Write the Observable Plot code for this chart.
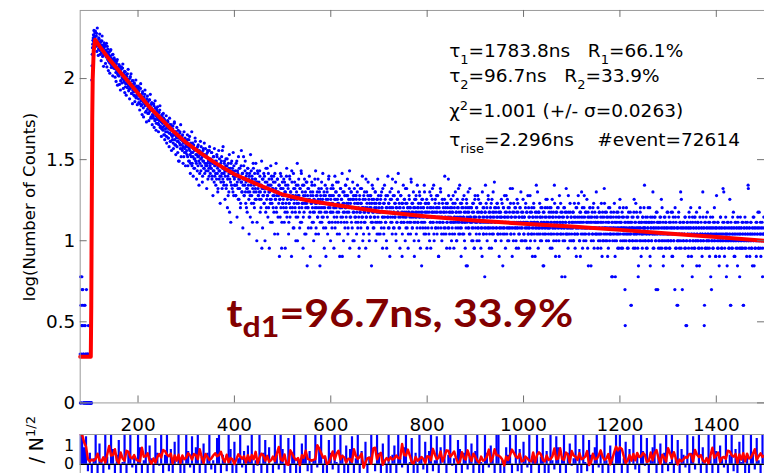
<!DOCTYPE html>
<html>
<head>
<meta charset="utf-8">
<script src="https://cdn.jsdelivr.net/npm/d3@7"></script>
<script src="https://cdn.jsdelivr.net/npm/@observablehq/plot@0.6"></script>
<style>
html, body { margin: 0; padding: 0; background: #fff; overflow: hidden; }
#wrap { position: relative; width: 764px; height: 473px; overflow: hidden; background: #fff; }
#wrap > svg { position: absolute; left: 0; }
</style>
</head>
<body>
<div id="wrap"></div>
<script>
// ---------- data ----------
// The histogram has 0.5 ns bins; they are listed as two interleaved series:
// bins starting on whole ns (80, 81, ... 1500) and on half ns (80.5, ... 1499.5).
const binStart = 80;      // ns
const binStep = 1;        // ns between entries of one series
const halfOffset = 0.5;   // ns offset of the second series

// whole-ns bins, 80–150 ns (pre-pulse, rise, peak)
const countsRise = [
  2,6,1,3,5,4,2,1,3,1,4,2,1,5,1,2,1,3,1,2,1,1,1,1,
  98,141,163,178,169,184,175,
  181,166,172,190,159,170,163,152,176,161,
  149,167,158,144,171,153,160,139,155,147,
  162,141,150,136,146,158,131,143,128,139,
  125,137,149,122,133,118,130,141,126,120
];
// whole-ns bins, 151–400 ns (fast decay)
const countsDecay = [
  128,115,121,109,124,112,131,106,118,113, 104,119,110,97,114,107,101,116,99,108, 95,111,102,89,105,98,93,107,96,90, 99,86,94,103,88,92,81,97,85,91, 83,94,78,88,84,76,90,80,86,79,
  75,84,79,70,87,73,78,69,81,74, 66,77,72,80,68,71,63,75,69,65, 72,61,67,74,63,69,58,65,70,60, 64,57,68,62,55,66,59,53,63,60, 56,61,52,58,64,50,57,54,49,59,
  53,48,57,51,45,55,49,52,44,50, 47,54,43,50,46,52,41,48,45,51, 44,49,40,46,53,42,45,39,47,43, 38,45,41,31,43,40,47,37,42,39, 44,36,41,38,33,42,37,40,35,39,
  36,42,33,39,31,37,44,34,30,38, 35,29,40,33,37,28,36,32,41,34, 30,37,27,33,39,31,35,26,34,32, 38,29,33,25,36,31,28,34,30,37, 27,33,29,35,24,31,28,36,30,26,
  32,28,35,25,30,27,33,23,29,31, 26,30,24,33,28,21,29,27,32,25, 29,23,31,26,36,24,28,22,30,27, 25,29,21,27,32,24,19,28,26,15, 27,23,30,22,26,28,20,25,29,24
];
// whole-ns bins, 401–800 ns
const countsMid = [
  22,27,19,25,31,23,26,18,24,28, 21,25,17,29,23,20,26,22,33,19, 24,27,20,23,16,26,21,28,22,18, 25,20,14,23,27,19,24,21,30,17, 22,26,18,24,20,23,13,27,21,19,
  23,18,25,20,16,22,9,24,19,21, 26,17,20,23,15,21,18,28,19,22, 16,24,20,18,13,22,25,17,21,19, 23,15,20,26,18,21,16,19,24,11, 20,17,22,18,14,21,25,9,19,17,
  21,16,19,23,15,20,17,25,14,18, 22,19,13,17,24,16,20,18,27,15, 19,12,21,17,23,16,19,14,20,18, 10,22,17,19,15,21,13,18,26,16, 20,17,14,22,18,11,19,16,23,17,
  7,19,16,21,14,18,15,20,12,17, 22,16,19,13,18,15,24,17,11,19, 16,20,14,18,21,15,17,13,19,16, 23,14,18,16,12,20,17,15,19,8, 17,21,14,18,16,25,13,19,15,18,
  15,19,13,17,21,16,14,18,12,20, 16,23,15,18,13,17,19,11,16,21, 14,18,16,8,20,15,17,13,19,16, 22,14,17,15,19,12,18,16,27,14, 17,20,13,16,18,10,19,15,21,14,
  16,13,18,15,20,12,17,14,9,19, 15,17,13,21,16,14,18,11,15,20, 13,16,24,14,17,12,19,15,18,10, 16,14,19,13,17,22,15,12,18,14, 16,20,13,17,15,11,18,14,19,16,
  13,17,15,19,12,16,14,21,15,11, 17,14,18,13,16,9,15,19,14,17, 12,16,20,14,15,18,13,24,16,12, 15,19,14,17,11,16,13,18,15,26, 14,17,12,16,19,13,15,8,17,14,
  16,13,18,14,21,12,15,17,13,16, 11,15,18,14,16,13,23,15,12,17, 14,16,10,18,13,15,19,14,12,16, 13,17,15,20,14,9,16,13,18,15, 12,16,14,22,13,17,11,15,18,14
];
// whole-ns bins, 801–1500 ns (slow tail)
const countsTail = [
  15,12,17,14,10,16,13,19,14,15, 21,13,16,11,15,14,18,12,16,13, 15,19,12,8,16,14,13,20,15,11, 14,17,13,15,12,18,14,16,11,15, 13,17,14,24,12,15,9,16,14,13,
  16,12,15,19,13,14,11,17,13,15, 10,14,16,12,21,15,13,11,17,14, 12,16,13,18,14,11,15,13,9,16, 7,17,13,15,20,12,14,16,11,14, 13,16,12,15,10,17,14,9,18,13,
  14,11,16,13,19,12,15,10,14,13, 17,12,15,8,13,16,11,14,12,15, 22,13,11,16,14,12,18,13,9,15, 12,14,17,13,11,15,20,12,14,16, 13,10,15,12,17,14,11,16,13,12,
  15,11,14,18,12,13,7,16,12,14, 11,15,13,19,12,14,10,16,13,12, 15,12,17,11,14,13,21,12,10,15, 13,16,12,14,9,15,12,17,13,11, 14,12,16,13,10,15,12,14,18,13,
  11,14,12,16,10,13,15,12,19,11, 14,12,9,15,13,11,16,12,14,13, 17,11,13,8,14,12,15,13,20,12, 11,15,12,14,10,16,13,12,14,11, 15,7,13,12,16,11,14,13,18,12,
  13,10,15,12,14,11,16,13,9,14, 12,15,11,22,13,12,14,10,15,13, 11,16,12,8,14,13,17,11,12,15, 13,10,14,12,16,6,13,11,15,12, 14,11,19,12,13,10,15,12,14,11,
  13,12,15,10,14,11,9,13,16,12, 11,14,12,17,13,10,15,8,12,14, 13,16,11,12,10,19,14,12,11,15, 12,13,9,15,11,14,12,16,13,7, 12,14,11,16,10,13,12,15,11,13,
  20,12,14,9,13,11,15,12,10,14, 11,13,8,15,12,10,14,17,12,11, 13,15,10,12,14,9,13,11,16,12, 11,14,6,13,10,12,15,11,13,8, 12,14,10,13,11,15,12,9,14,18,
  11,13,9,12,14,10,16,12,11,13, 3,12,10,14,11,13,9,15,12,10, 11,13,4,12,14,10,12,9,15,11, 13,10,17,12,11,14,9,6,12,13, 10,15,12,8,13,11,14,10,12,16,
  22,12,10,13,9,11,14,12,10,13, 11,16,7,12,13,10,14,11,9,12, 13,11,14,10,5,12,15,11,13,9, 12,10,14,13,11,18,9,12,10,7, 11,14,12,9,13,10,12,15,11,10,
  12,14,9,11,13,10,12,8,15,11, 13,10,12,5,14,11,9,12,10,4, 12,15,10,11,13,20,9,12,11,7, 13,10,12,11,14,9,3,12,10,13, 11,8,12,14,10,12,16,11,9,6,
  13,10,12,9,11,14,10,12,15,11, 10,13,9,12,7,14,11,10,12,9, 11,20,10,12,3,13,9,11,14,10, 12,9,11,13,10,8,12,14,11,5, 10,12,9,13,11,16,10,12,8,11,
  12,10,13,9,11,7,12,10,14,11, 9,12,10,21,11,13,8,12,10,11, 6,11,13,10,12,9,11,18,10,4, 12,9,11,14,10,12,8,11,13,10, 9,12,11,7,13,10,12,9,11,14,
  10,12,9,11,13,4,10,12,9,11, 13,10,8,12,11,22,10,9,12,11, 10,13,9,11,7,12,10,14,11,9, 12,10,8,13,11,10,12,9,15,10, 11,9,12,10,13,6,11,10,12,11
];
// half-ns bins, 80.5–1499.5 ns
const countsHalfEarly = [
  1,4,2,6,3,5,1,2,4,1,3,1,2,1,1,2,1,1,2,1,1,1,1,1,
  120,155,172,186,198,179,192,
  196,158,183,147,205,162,139,178,154,188, 141,171,129,160,183,137,152,119,166,143,
  158,124,147,165,118,139,152,112,131,146, 108,135,151,117,126,140,104,129,116,134,
  131,102,119,96,128,110,91,117,104,122, 92,113,85,108,118,94,101,123,87,105, 97,82,110,93,79,103,88,99,114,84, 94,75,101,89,107,81,92,70,97,86, 79,93,72,85,98,77,88,69,83,90,
  71,88,64,79,93,68,75,60,83,72, 58,77,70,85,62,73,54,69,78,61, 67,55,74,63,80,57,66,71,52,64, 59,70,50,62,73,56,48,65,58,67, 53,47,62,55,68,51,58,44,60,54,
  50,61,45,56,42,53,47,59,40,51, 55,43,49,38,57,46,41,52,36,48, 42,51,37,45,54,39,47,34,44,50, 41,35,48,43,31,46,39,52,33,42, 37,45,30,40,47,35,43,29,38,41,
  34,45,29,38,42,31,36,26,40,33, 47,30,35,25,39,32,28,43,31,37, 24,34,38,29,33,22,36,30,41,27, 32,35,23,31,37,28,40,26,33,29, 34,21,30,36,27,32,25,38,29,31,
  28,35,24,30,19,33,27,37,25,29, 22,31,34,26,20,29,36,24,27,17, 30,25,33,21,28,38,23,26,31,18, 27,32,22,29,16,25,30,20,34,24, 28,13,26,31,21,27,35,19,25,22
];
const countsHalfMid = [
  25,19,30,22,14,27,21,33,18,24, 28,16,23,36,20,26,12,24,29,19, 22,31,17,25,21,15,28,20,24,11, 26,19,34,22,17,25,13,23,28,20, 16,24,21,30,18,10,23,26,19,22,
  20,27,15,22,18,31,21,12,24,19, 17,25,10,21,28,16,23,19,14,26, 20,9,22,17,29,18,24,13,21,16, 25,19,11,23,18,30,15,20,24,14, 19,22,8,18,26,16,21,13,23,17,
  18,24,13,20,9,22,16,28,15,19, 21,11,17,25,14,20,18,8,23,16, 19,26,12,18,21,15,10,22,17,30, 14,19,24,16,12,21,18,27,13,17, 22,9,19,15,24,17,20,11,18,23,
  16,21,12,18,25,14,8,19,17,23, 13,20,15,10,18,22,16,27,12,17, 19,14,24,11,16,20,7,18,15,21, 13,17,26,14,19,9,16,22,12,18, 15,20,11,17,24,13,19,16,10,21,
  17,12,22,15,19,9,16,25,13,18, 20,14,11,17,23,15,19,8,16,21, 13,18,26,14,17,10,20,15,12,22, 16,19,13,24,11,17,15,21,9,18, 14,20,16,12,23,15,18,10,17,19,
  14,19,11,17,22,13,16,8,18,15, 21,12,17,14,25,10,16,19,13,15, 18,9,14,20,16,12,23,15,11,17, 19,14,16,7,18,13,21,15,12,17, 14,20,10,16,18,13,24,15,11,17,
  15,11,18,13,20,16,9,14,17,12, 22,15,13,19,10,16,14,25,12,17, 15,8,18,13,16,21,11,14,19,15, 12,17,14,23,10,16,13,18,15,20, 12,16,9,14,19,13,17,11,15,22,
  13,18,15,10,17,14,21,12,16,9, 15,19,13,16,11,24,14,17,12,15, 20,13,8,16,14,18,11,15,22,13, 16,10,14,19,12,17,15,7,14,18, 13,16,11,20,15,12,17,14,9,16
];
const countsHalfTail = [
  14,17,11,15,20,13,9,16,12,18, 15,13,22,10,14,17,12,15,19,11, 16,14,8,17,13,15,21,12,14,10, 18,13,16,11,15,25,12,14,17,9, 13,16,12,19,14,11,15,13,18,10,
  15,11,17,13,9,16,14,20,12,15, 10,18,13,16,11,14,22,12,15,8, 17,13,11,16,14,19,10,13,15,12, 18,14,7,16,12,15,11,21,13,14, 16,10,13,17,12,15,9,14,19,12,
  13,16,10,15,12,18,14,11,17,13, 9,15,12,20,14,11,16,13,6,15, 12,17,14,10,13,19,12,15,11,14, 16,13,9,18,12,14,11,15,23,13, 10,16,12,14,17,11,13,15,8,14,
  12,15,10,14,17,13,11,16,12,19, 14,9,13,15,11,18,12,14,10,16, 13,21,11,14,12,8,15,13,17,11, 14,12,16,10,13,18,12,15,9,14, 11,16,13,20,12,14,10,15,13,11,
  14,10,13,17,12,15,9,13,11,16, 12,14,19,10,13,15,11,8,14,12, 16,13,10,15,12,22,11,14,13,9, 15,12,17,11,14,13,10,16,12,7, 13,15,11,14,12,18,10,13,16,12,
  11,14,12,16,9,13,15,11,18,12, 14,10,13,17,12,8,15,11,13,16, 12,14,10,19,13,11,15,12,6,14, 13,11,16,12,10,15,13,21,11,14, 12,9,15,13,11,17,12,14,10,13,
  12,15,10,13,17,11,14,12,8,16, 13,11,19,12,14,10,13,15,11,20, 12,9,14,13,16,11,12,15,10,13, 18,12,14,7,13,11,16,12,14,10, 13,15,11,12,17,9,14,12,13,11,
  14,11,13,16,10,12,15,11,13,9, 17,12,14,10,13,11,21,12,15,10, 12,14,11,8,13,16,12,10,14,11, 15,12,13,6,11,14,12,17,10,6, 13,11,15,12,9,14,11,13,16,12,
  10,13,12,15,9,11,14,12,10,5, 13,11,16,12,9,14,11,13,10,12, 15,11,4,13,12,10,14,11,18,12, 9,13,11,15,10,12,14,7,13,11, 12,16,10,13,11,9,14,12,11,13,
  12,10,14,11,13,9,12,16,10,13, 11,8,14,12,10,13,11,20,12,9, 14,11,12,10,15,11,13,5,12,10, 13,11,9,14,12,10,16,11,13,8, 12,10,14,11,13,9,12,11,15,10,
  11,13,9,12,10,15,11,12,8,14, 10,12,11,16,9,13,11,4,12,10, 14,11,9,13,12,10,18,11,5,12, 10,13,11,9,14,12,10,3,13,11, 12,9,15,11,10,13,12,8,11,14,
  10,12,11,14,9,13,10,12,7,11, 13,10,12,9,16,11,10,13,12,8, 11,14,10,12,4,11,13,9,12,10, 15,11,10,12,9,13,11,6,12,10, 11,14,9,12,10,13,11,8,12,19,
  11,9,13,10,12,8,11,14,10,12, 9,11,13,10,20,12,9,11,14,10, 12,7,11,13,10,9,12,11,4,13, 10,12,9,11,15,10,12,8,11,13, 10,12,9,14,11,10,12,6,11,9,
  12,10,13,9,11,4,12,10,14,11, 9,12,10,13,11,21,10,12,8,11, 13,10,9,12,11,14,10,7,12,11, 9,13,10,12,11,15,9,10,12,11, 13,8,11,10,12,9,11,14,10
];

// fitted curve
const fitTime = [80,102,103,104,105,106,108,111,120,140,160,180,200,225,250,275,300,330,360,400,450,500,550,600,700,800,900,1000,1100,1200,1300,1400,1500];
const fitLog  = [0.285,0.285,0.6,1.2,1.75,2.0,2.17,2.24,2.20,2.12,2.05,1.98,1.91,1.82,1.745,1.67,1.605,1.54,1.48,1.41,1.345,1.285,1.25,1.225,1.18,1.15,1.125,1.105,1.088,1.067,1.045,1.023,1.0];

// residuals (data - fit)/N^1/2, one value every 4 ns from 80 ns
const residStep = 4;
const residuals = [
  1.8,2.2,0.9,1.5,-0.4,0.6,-1.2,0.3,2.0,-0.7,1.1,0.2,-1.5,1.7,0.4,-0.3,2.4,0.8,-0.9,0.5,
  1.3,-0.6,0.1,1.9,-1.1,0.7,2.1,-0.2,0.4,-1.4,1.6,0.9,-0.5,0.2,2.3,-0.8,1.0,0.3,-1.7,1.4,
  0.6,-0.1,1.8,-0.9,0.5,2.6,-0.4,0.8,-1.3,1.2,0.0,1.7,-0.6,0.3,-1.0,2.0,0.7,-0.2,1.5,-1.6,
  0.9,2.2,-0.5,0.4,1.1,-1.2,0.6,1.9,-0.3,0.2,-0.8,1.4,2.5,-1.1,0.5,0.1,-0.4,1.6,0.8,-1.5,
  1.2,-0.7,0.3,2.1,-0.2,0.7,-1.4,1.0,0.4,1.8,-0.9,0.2,-0.1,2.4,-1.3,0.6,1.3,-0.5,0.9,0.0,
  -1.0,1.7,0.5,-0.3,2.0,0.8,-1.6,0.1,1.4,-0.6,0.6,2.3,-0.8,0.3,-1.2,1.1,0.4,1.9,-0.4,0.7,
  -1.1,0.2,1.6,-0.2,0.9,2.7,-0.7,0.4,-1.5,1.3,0.6,-0.3,1.8,0.1,-0.9,2.2,0.5,-0.5,1.0,-1.3,
  0.8,1.5,-0.6,0.3,2.1,-1.0,0.7,-0.1,1.2,-1.7,0.4,1.9,0.0,-0.4,2.4,0.6,-1.2,1.1,0.2,-0.8,
  1.7,-0.5,0.5,1.0,-1.4,2.0,0.3,-0.2,0.9,2.5,-0.9,0.1,1.4,-0.7,0.6,-1.1,1.8,0.4,-0.3,1.2,
  -1.6,0.7,2.2,-0.4,0.2,1.5,-0.8,0.9,0.0,1.9,-1.2,0.5,2.6,-0.1,0.3,-0.6,1.3,0.8,-1.4,0.6,
  2.0,-0.3,0.4,1.1,-1.0,0.7,1.7,-0.5,0.1,-1.5,2.3,0.6,-0.2,1.0,0.3,-0.9,1.6,2.1,-0.6,0.2,
  -1.3,0.9,0.5,1.8,-0.7,0.0,2.4,-0.4,0.8,-1.1,1.2,0.3,-0.2,1.9,-1.6,0.6,0.1,2.2,-0.8,0.4,
  1.4,-0.5,0.7,-1.2,2.0,0.2,-0.3,1.5,0.9,-0.9,0.4,2.5,-1.4,0.6,1.1,-0.1,0.3,1.7,-0.6,0.8,
  -1.0,2.1,0.1,-0.4,1.3,0.5,-1.7,0.9,1.9,-0.2,0.6,-0.8,2.3,0.2,-1.1,1.0,0.4,-0.5,1.6,0.7,
  2.6,-0.6,0.3,1.2,-1.3,0.8,0.0,1.8,-0.3,0.5,-0.9,2.0,0.7,-0.1,1.4,-1.5,0.2,0.9,2.2,-0.7,
  0.4,1.1,-1.2,0.6,1.7,-0.4,0.1,2.4,-0.8,0.3,1.3,-1.6,0.8,0.5,-0.2,1.9,-1.0,0.6,1.5,-0.3,
  0.0,2.1,-0.7,0.9,0.2,-1.4,1.6,0.4,-0.5,2.3,0.7,-1.1,1.0,0.3,-0.2,1.8,-0.9,0.5,2.5,-0.4,
  0.8,-1.3,1.2,0.1,1.9,-0.6,0.4,-1.0,2.2,0.6,-0.3,1.4,0.2,-0.8,1.7,0.5
];

// axes
const xDomain = [80, 1500];
const yDomain = [0, 2.42];
const xTicks = [200, 400, 600, 800, 1000, 1200, 1400];
const yTicks = [0, 0.5, 1, 1.5, 2];
const residTicks = [0, 1];
const residDomain = [-2.7, 1.62];

// texts
const yLabel = "log(Number of Counts)";
const fitLines = [
  {t: 843, v: 2.133, parts: [["τ"], ["1", "sub"], ["=1783.8ns   R"], ["1", "sub"], ["=66.1%"]]},
  {t: 843, v: 1.975, parts: [["τ"], ["2", "sub"], ["=96.7ns   R"], ["2", "sub"], ["=33.9%"]]},
  {t: 843, v: 1.765, parts: [["χ"], ["2", "sup"], ["=1.001 (+/- σ=0.0263)"]]},
  {t: 843, v: 1.585, parts: [["τ"], ["rise", "sub"], ["=2.296ns    #event=72614"]]}
];
const bigNote = {t: 383, v: 0.475, parts: [["t"], ["d1", "sub"], ["=96.7ns, 33.9%"]]};

// ---------- build ----------
const whole = [...countsRise, ...countsDecay, ...countsMid, ...countsTail];
const half = [...countsHalfEarly, ...countsHalfMid, ...countsHalfTail];
const points = [
  ...whole.map((n, i) => ({t: binStart + binStep * i, logN: Math.log10(n)})),
  ...half.map((n, i) => ({t: binStart + halfOffset + binStep * i, logN: Math.log10(n)}))
];
const fit = fitTime.map((t, i) => ({t, v: fitLog[i]}));
const resid = residuals.map((r, i) => ({t: binStart + residStep * i, r}));

const FONT = "DejaVu Sans, Verdana, sans-serif";
const FS = 18.5;
const frameColor = "#9a9a9a";
const tickColor = "#707070";
const fmt = d => String(d);

const W = 767, H = 434, ML = 80, MT = 10, MB = 30;
const plotW = W - ML, plotH = H - MT - MB;

const main = Plot.plot({
  width: W, height: H,
  marginLeft: ML, marginRight: 0, marginTop: MT, marginBottom: MB,
  style: {fontFamily: FONT, fontSize: FS + "px", color: "black", background: "transparent", overflow: "visible"},
  x: {domain: xDomain, label: null},
  y: {domain: yDomain, label: null},
  marks: [
    Plot.dot(points, {x: "t", y: "logN", r: 1.6, fill: "#0000ff", stroke: null}),
    Plot.line(fit, {x: "t", y: "v", stroke: "#ff0000", strokeWidth: 4, strokeLinejoin: "round"}),
    Plot.frame({stroke: frameColor}),
    Plot.tickX(xTicks, {x: d => d, insetTop: plotH - 7, stroke: tickColor}),
    Plot.tickX(xTicks, {x: d => d, insetBottom: plotH - 7, stroke: tickColor}),
    Plot.tickY(yTicks, {y: d => d, insetRight: plotW - 7, stroke: tickColor}),
    Plot.tickY(yTicks, {y: d => d, insetLeft: plotW - 7, stroke: tickColor}),
    Plot.axisX(xTicks, {tickSize: 0, tickPadding: 15, tickFormat: fmt, label: null}),
    Plot.axisY(yTicks, {tickSize: 0, tickPadding: 5, tickFormat: fmt, label: null})
  ]
});
main.style.top = "0px";

const RH = 81;
const residPlot = Plot.plot({
  width: W, height: RH,
  marginLeft: ML, marginRight: 0, marginTop: 1, marginBottom: 0,
  style: {fontFamily: FONT, fontSize: "16px", color: "black", background: "transparent", overflow: "visible"},
  x: {domain: xDomain, axis: null},
  y: {domain: residDomain, axis: null},
  marks: [
    Plot.ruleX(resid, {x: "t", y1: 0, y2: "r", stroke: "#0000ff", strokeWidth: 2.2, clip: true}),
    Plot.ruleY([0], {stroke: "black", strokeWidth: 1.5}),
    Plot.lineY(resid, Plot.windowY({k: 5, reduce: "mean"}, {x: "t", y: "r", stroke: "#ff0000", strokeWidth: 2.5, clip: true})),
    Plot.frame({stroke: frameColor}),
    Plot.axisY(residTicks, {tickSize: 0, tickPadding: 6, tickFormat: fmt, label: null})
  ]
});
residPlot.style.top = "433px";

const wrap = document.getElementById("wrap");
wrap.appendChild(main);
wrap.appendChild(residPlot);

// ---------- text overlay (positioned with the plot's own scales) ----------
const sx = main.scale("x"), sy = main.scale("y");
const overlay = d3.create("svg")
  .attr("width", 764).attr("height", 473)
  .style("top", "0px")
  .style("font-family", FONT);

function rich(g, x, y, parts, size, subSize, subDy, supDy, attrs = {}) {
  const t = g.append("text").attr("x", x).attr("y", y).attr("font-size", size)
    .attr("xml:space", "preserve").style("white-space", "pre");
  for (const k in attrs) t.attr(k, attrs[k]);
  let shift = 0;
  for (const [s, kind] of parts) {
    const target = kind === "sub" ? subDy : kind === "sup" ? -supDy : 0;
    t.append("tspan").attr("dy", target - shift).attr("font-size", kind ? subSize : size).text(s);
    shift = target;
  }
  return t;
}

for (const l of fitLines) {
  rich(overlay, sx.apply(l.t), sy.apply(l.v), l.parts, FS, 13, 7, 7, {fill: "black"});
}
const stretch = 1.146; // the reference lettering is horizontally stretched
const big = overlay.append("g")
  .attr("transform", `translate(${sx.apply(bigNote.t)},${sy.apply(bigNote.v)}) scale(${stretch},1)`);
rich(big, 0, 0, bigNote.parts, 37.5, 28, 10, 0,
  {fill: "#820000", "font-family": "Lato, 'Open Sans', sans-serif", "font-weight": 700});

// y axis label of the main panel
overlay.append("text")
  .attr("transform", `translate(35,${(sy.apply(yDomain[0]) + sy.apply(yDomain[1])) / 2}) rotate(-90)`)
  .attr("text-anchor", "middle").attr("font-size", 16.5).attr("fill", "black")
  .text(yLabel);

// y axis label of the residual panel (only its end is visible)
const rl = overlay.append("text")
  .attr("transform", "translate(43,416) rotate(-90)")
  .attr("text-anchor", "end").attr("font-size", 19).attr("fill", "black");
rl.append("tspan").text("/ N");
rl.append("tspan").attr("dy", -8).attr("font-size", 13).text("1/2");

wrap.appendChild(overlay.node());
</script>
</body>
</html>
